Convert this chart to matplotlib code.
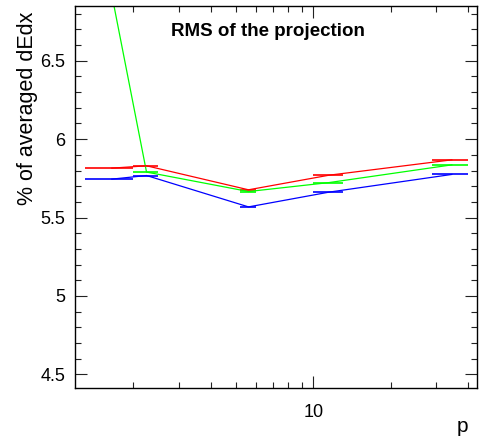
#Importar bibliotecas
import matplotlib
matplotlib.use('Agg')
import matplotlib.pyplot as plt
from matplotlib.ticker import FixedLocator, LogLocator, NullFormatter, FixedFormatter, MultipleLocator

#Dados
p = [1.65, 2.25, 5.6, 11.5, 34.5]
p_err = [0.35, 0.25, 0.4, 1.5, 5.5]
rms_red = [5.815, 5.83, 5.677, 5.77, 5.868]
rms_green = [6.92, 5.79, 5.666, 5.723, 5.836]
rms_blue = [5.745, 5.768, 5.568, 5.662, 5.775]

plt.rcParams['font.family'] = ['Liberation Sans', 'DejaVu Sans']

fig = plt.figure(figsize=(4.82, 4.38), dpi=100)
ax = fig.add_axes([75 / 482, 1 - 387.7 / 438, 402 / 482, 381.7 / 438])

#Desenhar as series (linha entre pontos + barras em x)
for y, cor in [(rms_blue, '#0000ff'), (rms_green, '#00ff00'), (rms_red, '#ff0000')]:
    ax.errorbar(p, y, xerr=p_err, color=cor, lw=0.9, elinewidth=1.2, capsize=0, fmt='-')

ax.set_xscale('log')
ax.set_xlim(1.187, 43.2)
ax.set_ylim(4.415, 6.849)

#Eixos no estilo ROOT
ax.xaxis.set_major_locator(FixedLocator([10]))
ax.xaxis.set_major_formatter(FixedFormatter(['10']))
ax.xaxis.set_minor_locator(LogLocator(base=10, subs=[2, 3, 4, 5, 6, 7, 8, 9]))
ax.xaxis.set_minor_formatter(NullFormatter())
ax.yaxis.set_major_locator(MultipleLocator(0.5))
ax.yaxis.set_minor_locator(MultipleLocator(0.1))
ax.yaxis.set_major_formatter(plt.FuncFormatter(lambda v, pos: ('%g' % v)))

ax.tick_params(which='both', direction='in', top=True, right=True, width=0.8, color='#222222')
ax.tick_params(which='major', length=8.6)
ax.tick_params(which='minor', length=4.3)
ax.tick_params(axis='y', labelsize=13, pad=7)
ax.tick_params(axis='x', labelsize=13, pad=12)
for s in ax.spines.values():
    s.set_linewidth(1.0)

#Textos
fig.text(28 / 482, 1 - 12 / 438, '% of averaged dEdx', rotation=90, ha='center', va='top', fontsize=15.5)
fig.text(267.5 / 482, 1 - 32 / 438, 'RMS of the projection', ha='center', va='center', fontsize=13.5, fontweight='bold')
fig.text(468 / 482, 1 - 432 / 438, 'p', ha='right', va='baseline', fontsize=15)

fig.savefig('out.png', dpi=100)
